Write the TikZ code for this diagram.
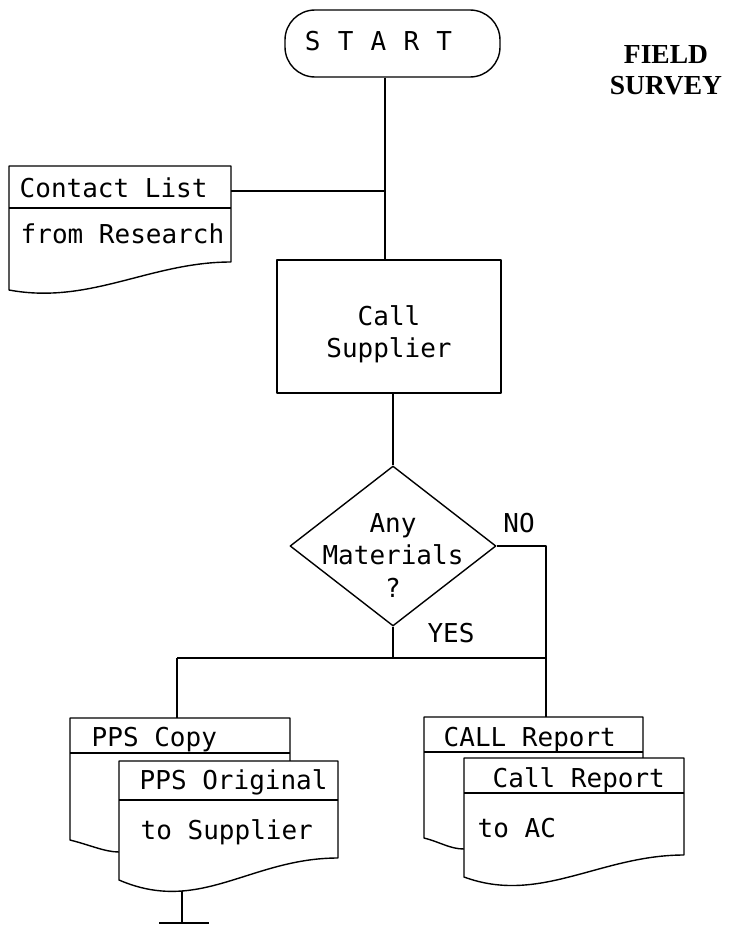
\documentclass[tikz,border=0pt]{standalone}
\usepackage{fontspec}
\setmainfont{Liberation Serif}
\setmonofont{DejaVu Sans Mono}
\usetikzlibrary{shapes.geometric}
\begin{document}
\begin{tikzpicture}[x=1pt,y=-1pt,line width=1.4pt,line join=round,
  mono/.style={font=\fontsize{26}{32}\selectfont\ttfamily,inner sep=0pt},
  lbl/.style={mono,anchor=base west},
  ttl/.style={font=\fontsize{27.5}{30}\selectfont\bfseries,inner sep=0pt,anchor=base},
  docfill/.style={draw,fill=white}]
\useasboundingbox (0,0) rectangle (728,926);

% title
\node[ttl] (field) at (666,63) {FIELD};
\node[ttl] (survey) at (666,94.5) {SURVEY};

% start
\node[draw,rounded corners=30pt,minimum width=215pt,minimum height=67pt] (start) at (392.5,43.5) {};
\node[mono,anchor=base] (starttxt) at (378.5,50) {S\hspace{17.2pt}T\hspace{17.2pt}A\hspace{17.2pt}R\hspace{17.2pt}T};

% contact list document
\draw (9,166) -- (231,166) -- (231,262) .. controls (150,262) and (90,305) .. (9,290) -- cycle;
\draw (9,208) -- (231,208);
\node[lbl] (cl) at (19,197) {Contact List};
\node[lbl] (fr) at (20,243) {from Research};
\coordinate (cdr) at (231,191);
\coordinate (j1) at (385,191);

% call supplier
\node[draw,minimum width=224pt,minimum height=133pt] (call) at (389,326.5) {};
\node[mono,align=center] (calltxt) at (389,334) {Call\\Supplier};

% decision
\node[draw,diamond,minimum width=206pt,minimum height=160pt,inner sep=0pt] (dia) at (393,546) {};
\node[mono,align=center,font=\fontsize{26}{32.5}\selectfont\ttfamily] (diatxt) at (393,555.5) {Any\\Materials\\?};
\node[mono,anchor=base] (no) at (519,532.5) {NO};
\node[mono,anchor=base] (yes) at (451,642.5) {YES};

% connectors top part
\draw (j1 |- start.south) -- (j1 |- call.north);
\draw (cdr) -- (j1);
\draw (call.south -| dia.north) -- (dia.north);

% branch coordinates
\coordinate (nocorner) at (546,546);
\coordinate (busR) at (546,658);
\coordinate (busM) at (dia.south |- busR);
\coordinate (busL) at (177,658);
\coordinate (ppstop) at (177,718);
\coordinate (calltop) at (546,717);

\draw (dia.east) -- (nocorner) -- (calltop);
\draw (dia.south) -- (busM);
\draw (busL) -- (busR);
\draw (busL) -- (ppstop);

% PPS copy (back)
\draw (119,852) .. controls (105,852) and (90,845) .. (70,840) -- (70,718) -- (290,718) -- (290,761);
\draw (70,753) -- (290,753);
\node[lbl] (ppscopy) at (91,746) {PPS Copy};
% PPS original (front)
\draw[docfill] (119,761) -- (338,761) -- (338,858) .. controls (250,858) and (200,915) .. (119,880) -- cycle;
\draw (119,800) -- (338,800);
\node[lbl] (ppsorig) at (139,789) {PPS Original};
\node[lbl] (tosup) at (140,839) {to Supplier};
\coordinate (tail1) at (182,891);
\coordinate (tail2) at (182,923);
\draw (tail1) -- (tail2);
\draw ([xshift=-23pt]tail2) -- ([xshift=27pt]tail2);

% CALL report (back)
\draw (464,849) .. controls (450,849) and (440,842) .. (424,838) -- (424,717) -- (643,717) -- (643,758);
\draw (424,752) -- (643,752);
\node[lbl] (callrep1) at (443,746) {CALL Report};
% Call report (front)
\draw[docfill] (464,758) -- (684,758) -- (684,855) .. controls (600,855) and (540,905) .. (464,877) -- cycle;
\draw (464,793) -- (684,793);
\node[lbl] (callrep2) at (492,787) {Call Report};
\node[lbl] (toac) at (477,837) {to AC};
\end{tikzpicture}
\end{document}
